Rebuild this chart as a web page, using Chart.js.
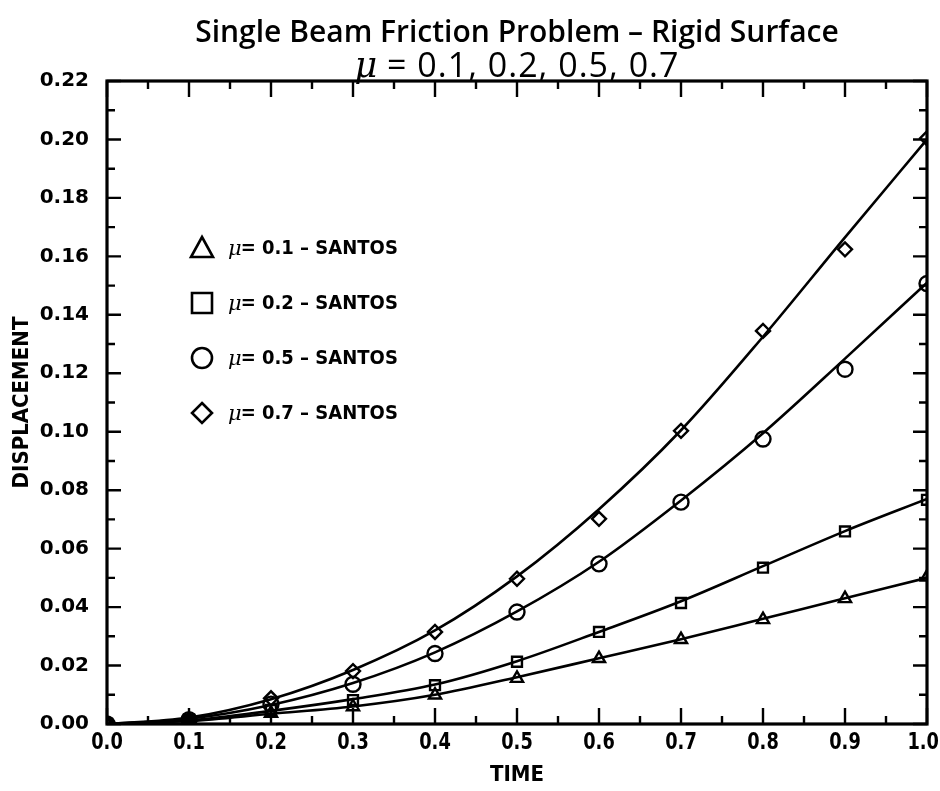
<!DOCTYPE html>
<html>
<head>
<meta charset="utf-8">
<script src="https://cdn.jsdelivr.net/npm/chart.js@4.4.1/dist/chart.umd.min.js"></script>
<style>
  html, body { margin: 0; padding: 0; background: #ffffff; }
  #wrap { width: 940px; height: 791px; }
</style>
</head>
<body>
<div id="wrap"><canvas id="c" width="940" height="791"></canvas></div>
<script>
// ---- data ----
const times = [0.0, 0.1, 0.2, 0.3, 0.4, 0.5, 0.6, 0.7, 0.8, 0.9, 1.0];

// smooth reference curves
const curveMu01 = [0, 0.0010, 0.0035, 0.0060, 0.0100, 0.0160, 0.0225, 0.0290, 0.0360, 0.0430, 0.0500];
const curveMu02 = [0, 0.0012, 0.0045, 0.0085, 0.0135, 0.0215, 0.0315, 0.0420, 0.0540, 0.0660, 0.0770];
const curveMu05 = [0, 0.0018, 0.0065, 0.0140, 0.0245, 0.0385, 0.0555, 0.0765, 0.0995, 0.1250, 0.1510];
const curveMu07 = [0, 0.0022, 0.0085, 0.0185, 0.0320, 0.0505, 0.0735, 0.1005, 0.1325, 0.1665, 0.2000];

// SANTOS markers
const santosMu01 = [0, 0.0015, 0.0037, 0.0059, 0.0099, 0.0156, 0.0224, 0.0289, 0.0357, 0.0429, 0.0503];
const santosMu02 = [0, 0.0015, 0.0048, 0.0082, 0.0133, 0.0213, 0.0315, 0.0414, 0.0535, 0.0659, 0.0767];
const santosMu05 = [0, 0.0015, 0.0068, 0.0136, 0.0241, 0.0383, 0.0548, 0.0759, 0.0975, 0.1214, 0.1507];
const santosMu07 = [0, 0.0015, 0.0088, 0.0181, 0.0315, 0.0497, 0.0702, 0.1003, 0.1345, 0.1624, 0.2004];

const seriesLabels = ['0.1', '0.2', '0.5', '0.7'];
const seriesStyles = ['triangle', 'rect', 'circle', 'rectRot'];

// axis ticks
const xMajorTicks = [0.0, 0.1, 0.2, 0.3, 0.4, 0.5, 0.6, 0.7, 0.8, 0.9, 1.0];
const xMinorTicks = [0.05, 0.15, 0.25, 0.35, 0.45, 0.55, 0.65, 0.75, 0.85, 0.95];
const yMajorTicks = [0.00, 0.02, 0.04, 0.06, 0.08, 0.10, 0.12, 0.14, 0.16, 0.18, 0.20, 0.22];
const yMinorTicks = [0.01, 0.03, 0.05, 0.07, 0.09, 0.11, 0.13, 0.15, 0.17, 0.19, 0.21];

const titleLine1 = 'Single Beam Friction Problem \u2013 Rigid Surface';
const titleMu = '\u03BC';
const titleLine2 = ' = 0.1, 0.2, 0.5, 0.7';
const xTitle = 'TIME';
const yTitle = 'DISPLACEMENT';

// ---- build datasets ----
const toXY = arr => arr.map((v, i) => ({ x: times[i], y: v }));
const curves = [curveMu01, curveMu02, curveMu05, curveMu07];
const santos = [santosMu01, santosMu02, santosMu05, santosMu07];

const datasets = [];
curves.forEach((c, i) => {
  datasets.push({
    label: 'curve ' + seriesLabels[i],
    data: toXY(c),
    borderColor: '#000',
    borderWidth: 2.6,
    pointRadius: 0,
    cubicInterpolationMode: 'monotone',
    fill: false,
    isCurve: true
  });
});
santos.forEach((s, i) => {
  datasets.push({
    label: '\u03BC= ' + seriesLabels[i] + ' \u2013 SANTOS',
    data: toXY(s),
    showLine: false,
    pointStyle: seriesStyles[i],
    pointRadius: seriesStyles[i] === 'circle' ? 7.5 : 7,
    pointBorderWidth: 2.4,
    pointBorderColor: '#000',
    pointBackgroundColor: 'rgba(0,0,0,0)',
    isCurve: false
  });
});

const condensed = "'Liberation Sans Narrow', 'DejaVu Sans Condensed', 'Arial Narrow', sans-serif";

const framePlugin = {
  id: 'frame',
  afterDatasetsDraw(chart) {
    const ctx = chart.ctx;
    const a = chart.chartArea;
    const xs = chart.scales.x, ys = chart.scales.y;
    ctx.save();
    ctx.strokeStyle = '#000';
    ctx.lineCap = 'butt';
    ctx.lineWidth = 2.4;
    const xt = (v, len) => {
      const px = xs.getPixelForValue(v);
      ctx.beginPath();
      ctx.moveTo(px, a.bottom); ctx.lineTo(px, a.bottom - len);
      ctx.moveTo(px, a.top); ctx.lineTo(px, a.top + len);
      ctx.stroke();
    };
    const yt = (v, len) => {
      const py = ys.getPixelForValue(v);
      ctx.beginPath();
      ctx.moveTo(a.left, py); ctx.lineTo(a.left + len, py);
      ctx.moveTo(a.right, py); ctx.lineTo(a.right - len, py);
      ctx.stroke();
    };
    xMajorTicks.forEach(v => xt(v, 16));
    xMinorTicks.forEach(v => xt(v, 8));
    yMajorTicks.forEach(v => yt(v, 14));
    yMinorTicks.forEach(v => yt(v, 8));
    ctx.lineWidth = 3.2;
    ctx.strokeRect(a.left, a.top, a.right - a.left, a.bottom - a.top);

    // x tick labels (condensed, placed from the x scale)
    ctx.fillStyle = '#000';
    ctx.textBaseline = 'top';
    ctx.textAlign = 'center';
    ctx.font = "bold 23px " + condensed;
    const sx = 0.86;
    xMajorTicks.forEach(v => {
      const txt = v.toFixed(1);
      let px = xs.getPixelForValue(v);
      const w = ctx.measureText(txt).width * sx;
      if (px + w / 2 > chart.width - 1) px = chart.width - 1 - w / 2;
      ctx.save();
      ctx.translate(px, a.bottom + 8);
      ctx.scale(sx, 1);
      ctx.fillText(txt, 0, 0);
      ctx.restore();
    });

    // title
    const cx = (a.left + a.right) / 2;
    ctx.textBaseline = 'alphabetic';
    ctx.textAlign = 'center';
    ctx.font = "600 30px 'Open Sans', 'DejaVu Sans', sans-serif";
    ctx.fillText(titleLine1, cx, 42);
    ctx.font = "italic 35px 'DejaVu Serif', serif";
    const wMu = ctx.measureText(titleMu).width;
    ctx.font = "500 34px 'Open Sans', 'DejaVu Sans', sans-serif";
    ctx.letterSpacing = '1px';
    const wRest = ctx.measureText(titleLine2).width;
    ctx.letterSpacing = '0px';
    const start = cx - (wMu + wRest) / 2;
    ctx.textAlign = 'left';
    ctx.font = "italic 35px 'DejaVu Serif', serif";
    ctx.fillText(titleMu, start, 77);
    ctx.font = "500 34px 'Open Sans', 'DejaVu Sans', sans-serif";
    ctx.letterSpacing = '1px';
    ctx.fillText(titleLine2, start + wMu, 77);
    ctx.letterSpacing = '0px';

    // legend
    const lx = 202, ly0 = 248, dy = 55;
    const santosSets = chart.data.datasets.filter(d => !d.isCurve);
    santosSets.forEach((d, i) => {
      const y = ly0 + i * dy;
      ctx.lineWidth = 2.6;
      ctx.strokeStyle = '#000';
      ctx.beginPath();
      if (d.pointStyle === 'triangle') {
        ctx.moveTo(lx, y - 11); ctx.lineTo(lx + 11, y + 9); ctx.lineTo(lx - 11, y + 9); ctx.closePath();
      } else if (d.pointStyle === 'rect') {
        ctx.rect(lx - 10, y - 10, 20, 20);
      } else if (d.pointStyle === 'circle') {
        ctx.arc(lx, y, 10, 0, Math.PI * 2);
      } else {
        ctx.moveTo(lx, y - 10); ctx.lineTo(lx + 10, y); ctx.lineTo(lx, y + 10); ctx.lineTo(lx - 10, y); ctx.closePath();
      }
      ctx.stroke();
      ctx.textAlign = 'left';
      ctx.textBaseline = 'middle';
      ctx.font = "italic 21px 'DejaVu Serif', serif";
      const mu = '\u03BC';
      ctx.fillText(mu, lx + 26, y + 2);
      const w = ctx.measureText(mu).width;
      ctx.font = "bold 20px " + condensed;
      ctx.fillText(d.label.slice(1), lx + 26 + w - 1, y + 1);
    });
    ctx.restore();
  }
};

new Chart(document.getElementById('c'), {
  type: 'line',
  data: { datasets },
  options: {
    responsive: false,
    animation: false,
    layout: { padding: { top: 81, right: 13, left: 0, bottom: 0 } },
    plugins: { legend: { display: false }, tooltip: { enabled: false }, title: { display: false } },
    scales: {
      x: {
        type: 'linear',
        min: 0, max: 1,
        afterFit(s) { s.height = 67; s.paddingLeft = 0; s.paddingRight = 0; },
        afterBuildTicks(s) { s.ticks = xMajorTicks.map(v => ({ value: v })); },
        grid: { display: false, drawTicks: false },
        border: { display: false },
        ticks: { display: false },
        title: {
          display: true, text: xTitle, color: '#000',
          font: { family: condensed, weight: 'bold', size: 22 },
          padding: { top: 0, bottom: 3 }
        }
      },
      y: {
        type: 'linear',
        min: 0, max: 0.22,
        afterFit(s) { s.width = 107; s.paddingTop = 0; s.paddingBottom = 0; },
        afterBuildTicks(s) { s.ticks = yMajorTicks.map(v => ({ value: v })); },
        grid: { display: false, drawTicks: false },
        border: { display: false },
        ticks: {
          color: '#000',
          padding: 18,
          font: { family: "'DejaVu Sans', sans-serif", weight: 'bold', size: 20 },
          callback: v => Number(v).toFixed(2)
        },
        title: {
          display: true, text: yTitle, color: '#000',
          font: { family: condensed, weight: 'bold', size: 22 },
          padding: { top: 9, bottom: 0 }
        }
      }
    }
  },
  plugins: [framePlugin]
});
</script>
</body>
</html>
